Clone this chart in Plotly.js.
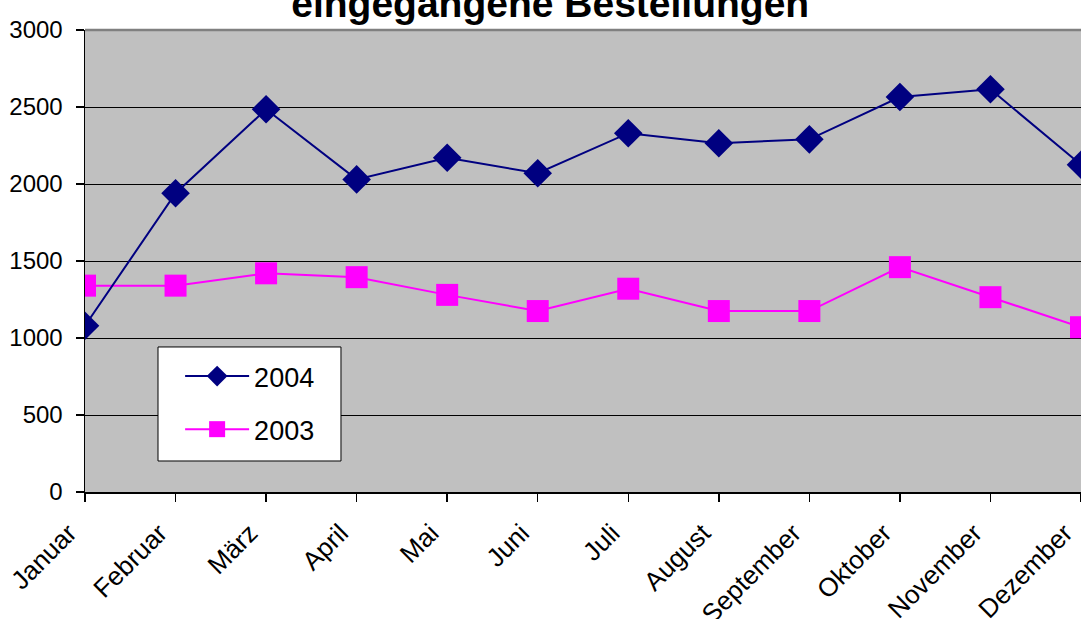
<!DOCTYPE html>
<html>
<head>
<meta charset="utf-8">
<script src="https://cdn.plot.ly/plotly-3.0.1.min.js"></script>
<style>html,body{margin:0;padding:0;background:#fff;}#chart{width:1081px;height:619px;}</style>
</head>
<body>
<div id="chart"></div>
<script>
const months = ['Januar','Februar','März','April','Mai','Juni','Juli','August','September','Oktober','November','Dezember'];
const values2004 = [1080, 1940, 2485, 2030, 2170, 2070, 2330, 2265, 2290, 2565, 2615, 2125];
const values2003 = [1340, 1340, 1420, 1395, 1280, 1175, 1320, 1175, 1175, 1460, 1265, 1070];
const yTicks = [0, 500, 1000, 1500, 2000, 2500, 3000];

const FONT = 'Arial, "Liberation Sans", sans-serif';

const traces = [
  {
    x: months, y: values2003, name: '2003', type: 'scatter', mode: 'lines+markers',
    legendgroup: 'g2003', legendrank: 2,
    line: {color: '#FF00FF', width: 2},
    marker: {symbol: 'square', size: 22, color: '#FF00FF', line: {width: 0}}
  },
  {
    x: months, y: values2004, name: '2004', type: 'scatter', mode: 'lines+markers',
    legendgroup: 'g2004', legendrank: 1,
    line: {color: '#000080', width: 2},
    marker: {symbol: 'diamond', size: 22, color: '#000080', line: {width: 0}}
  }
];

const layout = {
  width: 1081, height: 619,
  margin: {l: 85, r: 0, t: 30, b: 127, pad: 0},
  paper_bgcolor: '#FFFFFF',
  plot_bgcolor: '#C0C0C0',
  font: {family: FONT, color: '#000000', size: 24},
  title: {
    text: '<b>eingegangene Bestellungen</b>',
    font: {family: FONT, size: 39, color: '#000000'},
    x: 0.509, xref: 'container', xanchor: 'center',
    y: 0.995, yref: 'container', yanchor: 'middle'
  },
  xaxis: {
    type: 'category', range: [0, 11], fixedrange: true,
    showgrid: false, zeroline: false,
    showline: true, linecolor: '#000000', linewidth: 1.5,
    ticks: 'outside', ticklen: 8, tickwidth: 1.5, tickcolor: '#000000',
    tickangle: -45, ticklabelshift: -16, ticklabelstandoff: 6,
    tickfont: {family: FONT, size: 26, color: '#000000'}
  },
  yaxis: {
    range: [0, 3000], tickvals: yTicks, ticktext: yTicks.map(String), fixedrange: true,
    showgrid: true, gridcolor: '#000000', gridwidth: 1, zeroline: false,
    showline: true, linecolor: '#000000', linewidth: 1.5,
    ticks: 'outside', ticklen: 8, tickwidth: 1.5, tickcolor: '#000000',
    ticklabelstandoff: 8,
    tickfont: {family: FONT, size: 24, color: '#000000'}
  },
  shapes: [
    {type: 'line', xref: 'paper', yref: 'paper', x0: 0, x1: 1, y0: 1, y1: 1,
     line: {color: '#808080', width: 2.5}, layer: 'above'},
    {type: 'rect', xref: 'paper', yref: 'paper', x0: 0.0733, x1: 0.2570, y0: 0.0671, y1: 0.3139,
     fillcolor: '#FFFFFF', line: {color: '#000000', width: 1}, layer: 'above'}
  ],
  showlegend: true,
  legend: {
    x: 0.0955, xanchor: 'left', y: 0.303, yanchor: 'top',
    bgcolor: 'rgba(0,0,0,0)', borderwidth: 0,
    traceorder: 'grouped', tracegroupgap: 15,
    itemwidth: 64,
    font: {family: FONT, size: 27, color: '#000000'}
  }
};

Plotly.newPlot('chart', traces, layout, {displayModeBar: false, staticPlot: true});
</script>
</body>
</html>
